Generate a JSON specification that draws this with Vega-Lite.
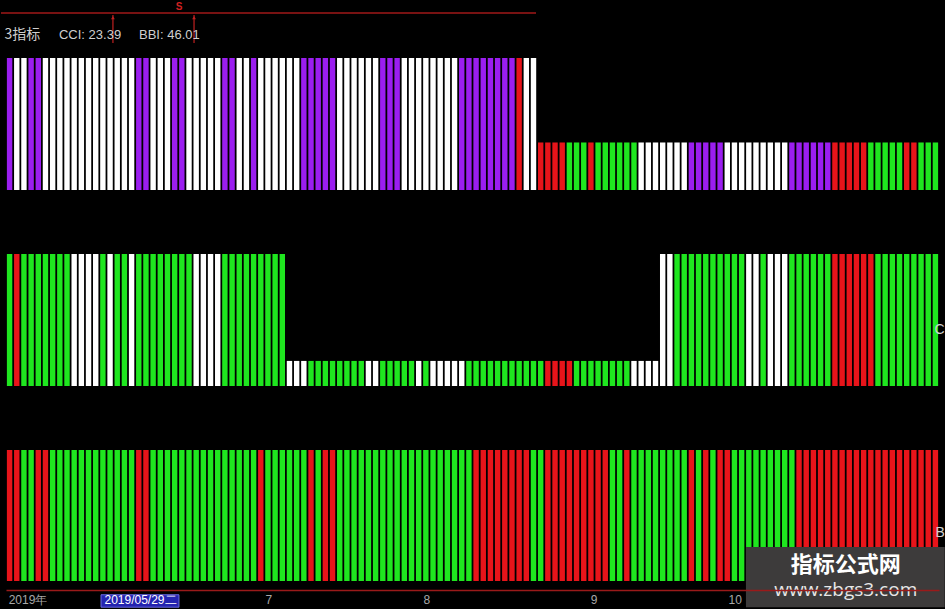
{
"$schema":"https://vega.github.io/schema/vega-lite/v6.json",
"autosize":{"type":"pad"},
"padding":{"left":0,"top":0,"right":1,"bottom":1},
"background":"#000000",
"config":{"view":{"stroke":null},"concat":{"spacing":64}},
"datasets":{
"top":[
{"i":0,"c":"P","v":100},{"i":1,"c":"W","v":100},{"i":2,"c":"W","v":100},{"i":3,"c":"P","v":100},{"i":4,"c":"P","v":100},
{"i":5,"c":"W","v":100},{"i":6,"c":"W","v":100},{"i":7,"c":"W","v":100},{"i":8,"c":"W","v":100},{"i":9,"c":"W","v":100},
{"i":10,"c":"W","v":100},{"i":11,"c":"W","v":100},{"i":12,"c":"W","v":100},{"i":13,"c":"W","v":100},{"i":14,"c":"W","v":100},
{"i":15,"c":"W","v":100},{"i":16,"c":"W","v":100},{"i":17,"c":"W","v":100},{"i":18,"c":"P","v":100},{"i":19,"c":"P","v":100},
{"i":20,"c":"W","v":100},{"i":21,"c":"W","v":100},{"i":22,"c":"W","v":100},{"i":23,"c":"P","v":100},{"i":24,"c":"P","v":100},
{"i":25,"c":"W","v":100},{"i":26,"c":"W","v":100},{"i":27,"c":"W","v":100},{"i":28,"c":"W","v":100},{"i":29,"c":"W","v":100},
{"i":30,"c":"P","v":100},{"i":31,"c":"P","v":100},{"i":32,"c":"W","v":100},{"i":33,"c":"W","v":100},{"i":34,"c":"P","v":100},
{"i":35,"c":"W","v":100},{"i":36,"c":"W","v":100},{"i":37,"c":"W","v":100},{"i":38,"c":"W","v":100},{"i":39,"c":"W","v":100},
{"i":40,"c":"W","v":100},{"i":41,"c":"P","v":100},{"i":42,"c":"P","v":100},{"i":43,"c":"P","v":100},{"i":44,"c":"P","v":100},
{"i":45,"c":"P","v":100},{"i":46,"c":"W","v":100},{"i":47,"c":"W","v":100},{"i":48,"c":"W","v":100},{"i":49,"c":"W","v":100},
{"i":50,"c":"W","v":100},{"i":51,"c":"W","v":100},{"i":52,"c":"P","v":100},{"i":53,"c":"P","v":100},{"i":54,"c":"P","v":100},
{"i":55,"c":"W","v":100},{"i":56,"c":"W","v":100},{"i":57,"c":"W","v":100},{"i":58,"c":"W","v":100},{"i":59,"c":"W","v":100},
{"i":60,"c":"W","v":100},{"i":61,"c":"W","v":100},{"i":62,"c":"W","v":100},{"i":63,"c":"P","v":100},{"i":64,"c":"P","v":100},
{"i":65,"c":"P","v":100},{"i":66,"c":"P","v":100},{"i":67,"c":"P","v":100},{"i":68,"c":"P","v":100},{"i":69,"c":"P","v":100},
{"i":70,"c":"P","v":100},{"i":71,"c":"R","v":100},{"i":72,"c":"W","v":100},{"i":73,"c":"W","v":100},
{"i":74,"c":"R","v":36},{"i":75,"c":"R","v":36},{"i":76,"c":"R","v":36},{"i":77,"c":"R","v":36},
{"i":78,"c":"G","v":36},{"i":79,"c":"G","v":36},{"i":80,"c":"G","v":36},{"i":81,"c":"R","v":36},
{"i":82,"c":"G","v":36},{"i":83,"c":"G","v":36},{"i":84,"c":"G","v":36},{"i":85,"c":"G","v":36},{"i":86,"c":"G","v":36},{"i":87,"c":"G","v":36},
{"i":88,"c":"W","v":36},{"i":89,"c":"W","v":36},{"i":90,"c":"W","v":36},{"i":91,"c":"W","v":36},{"i":92,"c":"W","v":36},{"i":93,"c":"W","v":36},{"i":94,"c":"W","v":36},
{"i":95,"c":"P","v":36},{"i":96,"c":"P","v":36},{"i":97,"c":"P","v":36},{"i":98,"c":"P","v":36},{"i":99,"c":"P","v":36},
{"i":100,"c":"W","v":36},{"i":101,"c":"W","v":36},{"i":102,"c":"W","v":36},{"i":103,"c":"W","v":36},{"i":104,"c":"W","v":36},
{"i":105,"c":"W","v":36},{"i":106,"c":"W","v":36},{"i":107,"c":"W","v":36},{"i":108,"c":"W","v":36},
{"i":109,"c":"P","v":36},{"i":110,"c":"P","v":36},{"i":111,"c":"P","v":36},{"i":112,"c":"P","v":36},{"i":113,"c":"P","v":36},{"i":114,"c":"P","v":36},
{"i":115,"c":"R","v":36},{"i":116,"c":"R","v":36},{"i":117,"c":"R","v":36},{"i":118,"c":"R","v":36},{"i":119,"c":"R","v":36},
{"i":120,"c":"G","v":36},{"i":121,"c":"G","v":36},{"i":122,"c":"G","v":36},{"i":123,"c":"G","v":36},{"i":124,"c":"G","v":36},
{"i":125,"c":"R","v":36},{"i":126,"c":"R","v":36},{"i":127,"c":"G","v":36},{"i":128,"c":"G","v":36},{"i":129,"c":"G","v":36}
],
"mid":[
{"i":0,"c":"G","v":100},{"i":1,"c":"R","v":100},{"i":2,"c":"G","v":100},{"i":3,"c":"G","v":100},{"i":4,"c":"G","v":100},
{"i":5,"c":"G","v":100},{"i":6,"c":"G","v":100},{"i":7,"c":"G","v":100},{"i":8,"c":"G","v":100},{"i":9,"c":"W","v":100},
{"i":10,"c":"W","v":100},{"i":11,"c":"W","v":100},{"i":12,"c":"W","v":100},{"i":13,"c":"G","v":100},{"i":14,"c":"W","v":100},
{"i":15,"c":"G","v":100},{"i":16,"c":"G","v":100},{"i":17,"c":"W","v":100},{"i":18,"c":"G","v":100},{"i":19,"c":"G","v":100},
{"i":20,"c":"G","v":100},{"i":21,"c":"G","v":100},{"i":22,"c":"G","v":100},{"i":23,"c":"G","v":100},{"i":24,"c":"G","v":100},
{"i":25,"c":"G","v":100},{"i":26,"c":"W","v":100},{"i":27,"c":"W","v":100},{"i":28,"c":"W","v":100},{"i":29,"c":"W","v":100},
{"i":30,"c":"G","v":100},{"i":31,"c":"G","v":100},{"i":32,"c":"G","v":100},{"i":33,"c":"G","v":100},{"i":34,"c":"G","v":100},
{"i":35,"c":"G","v":100},{"i":36,"c":"G","v":100},{"i":37,"c":"G","v":100},{"i":38,"c":"G","v":100},
{"i":39,"c":"W","v":19},{"i":40,"c":"W","v":19},{"i":41,"c":"W","v":19},
{"i":42,"c":"G","v":19},{"i":43,"c":"G","v":19},{"i":44,"c":"G","v":19},{"i":45,"c":"G","v":19},{"i":46,"c":"G","v":19},{"i":47,"c":"G","v":19},{"i":48,"c":"G","v":19},{"i":49,"c":"G","v":19},
{"i":50,"c":"W","v":19},{"i":51,"c":"W","v":19},
{"i":52,"c":"G","v":19},{"i":53,"c":"G","v":19},{"i":54,"c":"G","v":19},{"i":55,"c":"G","v":19},{"i":56,"c":"G","v":19},
{"i":57,"c":"W","v":19},{"i":58,"c":"G","v":19},
{"i":59,"c":"W","v":19},{"i":60,"c":"W","v":19},{"i":61,"c":"W","v":19},{"i":62,"c":"W","v":19},{"i":63,"c":"W","v":19},
{"i":64,"c":"G","v":19},{"i":65,"c":"G","v":19},{"i":66,"c":"G","v":19},{"i":67,"c":"G","v":19},{"i":68,"c":"G","v":19},{"i":69,"c":"G","v":19},
{"i":70,"c":"G","v":19},{"i":71,"c":"G","v":19},{"i":72,"c":"G","v":19},{"i":73,"c":"G","v":19},{"i":74,"c":"G","v":19},
{"i":75,"c":"R","v":19},{"i":76,"c":"R","v":19},{"i":77,"c":"R","v":19},{"i":78,"c":"R","v":19},
{"i":79,"c":"G","v":19},{"i":80,"c":"G","v":19},{"i":81,"c":"G","v":19},{"i":82,"c":"G","v":19},{"i":83,"c":"G","v":19},{"i":84,"c":"G","v":19},{"i":85,"c":"G","v":19},{"i":86,"c":"G","v":19},
{"i":87,"c":"W","v":19},{"i":88,"c":"W","v":19},{"i":89,"c":"W","v":19},{"i":90,"c":"W","v":19},
{"i":91,"c":"W","v":100},{"i":92,"c":"W","v":100},
{"i":93,"c":"G","v":100},{"i":94,"c":"G","v":100},{"i":95,"c":"G","v":100},{"i":96,"c":"G","v":100},{"i":97,"c":"G","v":100},
{"i":98,"c":"G","v":100},{"i":99,"c":"G","v":100},{"i":100,"c":"G","v":100},{"i":101,"c":"G","v":100},{"i":102,"c":"G","v":100},
{"i":103,"c":"W","v":100},{"i":104,"c":"W","v":100},{"i":105,"c":"G","v":100},{"i":106,"c":"W","v":100},{"i":107,"c":"W","v":100},{"i":108,"c":"W","v":100},
{"i":109,"c":"G","v":100},{"i":110,"c":"G","v":100},{"i":111,"c":"G","v":100},{"i":112,"c":"G","v":100},{"i":113,"c":"G","v":100},{"i":114,"c":"G","v":100},
{"i":115,"c":"R","v":100},{"i":116,"c":"R","v":100},{"i":117,"c":"R","v":100},{"i":118,"c":"R","v":100},{"i":119,"c":"R","v":100},{"i":120,"c":"R","v":100},
{"i":121,"c":"G","v":100},{"i":122,"c":"G","v":100},{"i":123,"c":"G","v":100},{"i":124,"c":"G","v":100},{"i":125,"c":"G","v":100},
{"i":126,"c":"G","v":100},{"i":127,"c":"G","v":100},{"i":128,"c":"G","v":100},{"i":129,"c":"G","v":100}
],
"bot":[
{"i":0,"c":"R","v":100},{"i":1,"c":"R","v":100},{"i":2,"c":"G","v":100},{"i":3,"c":"G","v":100},{"i":4,"c":"R","v":100},{"i":5,"c":"R","v":100},
{"i":6,"c":"G","v":100},{"i":7,"c":"G","v":100},{"i":8,"c":"G","v":100},{"i":9,"c":"G","v":100},{"i":10,"c":"G","v":100},{"i":11,"c":"G","v":100},
{"i":12,"c":"G","v":100},{"i":13,"c":"G","v":100},{"i":14,"c":"G","v":100},{"i":15,"c":"G","v":100},{"i":16,"c":"G","v":100},{"i":17,"c":"G","v":100},
{"i":18,"c":"R","v":100},{"i":19,"c":"R","v":100},
{"i":20,"c":"G","v":100},{"i":21,"c":"G","v":100},{"i":22,"c":"G","v":100},{"i":23,"c":"G","v":100},{"i":24,"c":"G","v":100},
{"i":25,"c":"G","v":100},{"i":26,"c":"G","v":100},{"i":27,"c":"G","v":100},{"i":28,"c":"G","v":100},{"i":29,"c":"G","v":100},
{"i":30,"c":"G","v":100},{"i":31,"c":"G","v":100},{"i":32,"c":"G","v":100},{"i":33,"c":"G","v":100},{"i":34,"c":"G","v":100},
{"i":35,"c":"R","v":100},
{"i":36,"c":"G","v":100},{"i":37,"c":"G","v":100},{"i":38,"c":"G","v":100},{"i":39,"c":"G","v":100},{"i":40,"c":"G","v":100},{"i":41,"c":"G","v":100},
{"i":42,"c":"R","v":100},{"i":43,"c":"G","v":100},{"i":44,"c":"R","v":100},{"i":45,"c":"R","v":100},
{"i":46,"c":"G","v":100},{"i":47,"c":"G","v":100},{"i":48,"c":"G","v":100},{"i":49,"c":"G","v":100},{"i":50,"c":"G","v":100},
{"i":51,"c":"G","v":100},{"i":52,"c":"G","v":100},{"i":53,"c":"G","v":100},{"i":54,"c":"G","v":100},{"i":55,"c":"G","v":100},
{"i":56,"c":"G","v":100},{"i":57,"c":"G","v":100},{"i":58,"c":"G","v":100},{"i":59,"c":"G","v":100},{"i":60,"c":"G","v":100},
{"i":61,"c":"G","v":100},{"i":62,"c":"G","v":100},{"i":63,"c":"G","v":100},{"i":64,"c":"G","v":100},
{"i":65,"c":"R","v":100},{"i":66,"c":"R","v":100},{"i":67,"c":"R","v":100},{"i":68,"c":"R","v":100},{"i":69,"c":"R","v":100},
{"i":70,"c":"R","v":100},{"i":71,"c":"R","v":100},{"i":72,"c":"R","v":100},
{"i":73,"c":"G","v":100},{"i":74,"c":"G","v":100},
{"i":75,"c":"R","v":100},{"i":76,"c":"R","v":100},{"i":77,"c":"R","v":100},{"i":78,"c":"R","v":100},{"i":79,"c":"R","v":100},
{"i":80,"c":"R","v":100},{"i":81,"c":"R","v":100},{"i":82,"c":"R","v":100},{"i":83,"c":"R","v":100},
{"i":84,"c":"G","v":100},{"i":85,"c":"G","v":100},{"i":86,"c":"R","v":100},
{"i":87,"c":"G","v":100},{"i":88,"c":"G","v":100},{"i":89,"c":"G","v":100},{"i":90,"c":"G","v":100},{"i":91,"c":"G","v":100},
{"i":92,"c":"G","v":100},{"i":93,"c":"G","v":100},{"i":94,"c":"G","v":100},
{"i":95,"c":"R","v":100},{"i":96,"c":"G","v":100},{"i":97,"c":"R","v":100},{"i":98,"c":"G","v":100},{"i":99,"c":"R","v":100},{"i":100,"c":"R","v":100},
{"i":101,"c":"G","v":100},{"i":102,"c":"G","v":100},{"i":103,"c":"G","v":100},{"i":104,"c":"G","v":100},{"i":105,"c":"G","v":100},
{"i":106,"c":"G","v":100},{"i":107,"c":"G","v":100},{"i":108,"c":"G","v":100},{"i":109,"c":"G","v":100},
{"i":110,"c":"R","v":100},{"i":111,"c":"R","v":100},{"i":112,"c":"R","v":100},{"i":113,"c":"R","v":100},{"i":114,"c":"R","v":100},
{"i":115,"c":"R","v":100},{"i":116,"c":"R","v":100},{"i":117,"c":"R","v":100},{"i":118,"c":"R","v":100},{"i":119,"c":"R","v":100},
{"i":120,"c":"R","v":100},{"i":121,"c":"R","v":100},{"i":122,"c":"R","v":100},{"i":123,"c":"R","v":100},{"i":124,"c":"R","v":100},
{"i":125,"c":"R","v":100},{"i":126,"c":"R","v":100},{"i":127,"c":"R","v":100},{"i":128,"c":"R","v":100},{"i":129,"c":"R","v":100}
]
},
"vconcat":[
{
"width":933,"height":132,
"layer":[
{"data":{"name":"top"},"mark":{"type":"bar","width":5.4},
 "encoding":{
  "x":{"field":"i","type":"quantitative","scale":{"domain":[-0.5,129.5],"nice":false,"zero":false,"padding":0},"axis":null},
  "y":{"field":"v","type":"quantitative","scale":{"domain":[0,100],"nice":false},"axis":null},
  "color":{"field":"c","type":"nominal","scale":{"domain":["W","P","G","R"],"range":["#ffffff","#9b1ef0","#1fe61f","#e8141a"]},"legend":null}}},
{"data":{"values":[{}]},"mark":{"type":"rule","color":"#000000","opacity":0,"strokeWidth":0.5},
 "encoding":{"x":{"datum":-1.2},"x2":{"datum":3},"y":{"datum":143.9}}},
{"data":{"values":[{}]},"mark":{"type":"rule","color":"#a01818","strokeWidth":1.5},
 "encoding":{"x":{"datum":-1.2},"x2":{"datum":73.35},"y":{"datum":134}}},
{"data":{"values":[{}]},"mark":{"type":"rule","color":"#c02020","strokeWidth":1.2},
 "encoding":{"x":{"datum":14.4},"y":{"datum":111.4},"y2":{"datum":132.6}}},
{"data":{"values":[{}]},"mark":{"type":"rule","color":"#c02020","strokeWidth":1.2},
 "encoding":{"x":{"datum":25.7},"y":{"datum":111.4},"y2":{"datum":132.6}}},
{"data":{"values":[{}]},"mark":{"type":"point","shape":"triangle-up","filled":true,"color":"#c02020","size":14,"opacity":1},
 "encoding":{"x":{"datum":14.4},"y":{"datum":130.5}}},
{"data":{"values":[{}]},"mark":{"type":"point","shape":"triangle-up","filled":true,"color":"#c02020","size":14,"opacity":1},
 "encoding":{"x":{"datum":25.7},"y":{"datum":130.5}}},
{"data":{"values":[{}]},"mark":{"type":"text","color":"#d02020","fontSize":10,"fontWeight":"bold","font":"Liberation Sans"},
 "encoding":{"x":{"datum":23.6},"y":{"datum":139},"text":{"value":"S"}}},
{"data":{"values":[{}]},"mark":{"type":"text","color":"#cfcfcf","fontSize":14,"align":"left","font":"Noto Sans CJK SC"},
 "encoding":{"x":{"datum":-0.7},"y":{"datum":117.4},"text":{"value":"3指标"}}},
{"data":{"values":[{}]},"mark":{"type":"text","color":"#cfcfcf","fontSize":13,"align":"left","font":"Liberation Sans"},
 "encoding":{"x":{"datum":6.88},"y":{"datum":117.4},"text":{"value":"CCI: 23.39"}}},
{"data":{"values":[{}]},"mark":{"type":"text","color":"#cfcfcf","fontSize":13,"align":"left","font":"Liberation Sans"},
 "encoding":{"x":{"datum":18.03},"y":{"datum":117.4},"text":{"value":"BBI: 46.01"}}}
]
},
{
"width":933,"height":132,
"layer":[
{"data":{"name":"mid"},"mark":{"type":"bar","width":5.4},
 "encoding":{
  "x":{"field":"i","type":"quantitative","scale":{"domain":[-0.5,129.5],"nice":false,"zero":false,"padding":0},"axis":null},
  "y":{"field":"v","type":"quantitative","scale":{"domain":[0,100],"nice":false},"axis":null},
  "color":{"field":"c","type":"nominal","scale":{"domain":["W","P","G","R"],"range":["#ffffff","#9b1ef0","#1fe61f","#e8141a"]},"legend":null}}},
{"data":{"values":[{}]},"mark":{"type":"text","color":"#d0d0d0","fontSize":14,"align":"right","font":"Liberation Sans"},
 "encoding":{"x":{"datum":130.3},"y":{"datum":42.4},"text":{"value":"C"}}}
]
},
{
"width":933,"height":131,
"layer":[
{"data":{"name":"bot"},"mark":{"type":"bar","width":5.4},
 "encoding":{
  "x":{"field":"i","type":"quantitative","scale":{"domain":[-0.5,129.5],"nice":false,"zero":false,"padding":0},
   "axis":{"values":[-0.2,13.15,35.6,57.6,80.9,100.1],
    "labelExpr":"datum.value < 5 ? '2019年' : datum.value < 20 ? '2019/05/29二' : datum.value < 40 ? '7' : datum.value < 70 ? '8' : datum.value < 90 ? '9' : '10'",
    "labelAlign":"left","labelFlush":false,"labelOverlap":false,"labelBound":false,
    "labelColor":{"condition":{"test":"datum.value > 10 && datum.value < 20","value":"#ffffff"},"value":"#a8a8a8"},
    "labelFont":"Liberation Sans","labelFontSize":12,"labelPadding":4,
    "offset":9,"domainColor":"#9a1a1a","domainWidth":1.5,"ticks":false,"grid":false,"title":null,"zindex":1}},
  "y":{"field":"v","type":"quantitative","scale":{"domain":[0,100],"nice":false},"axis":null},
  "color":{"field":"c","type":"nominal","scale":{"domain":["W","P","G","R"],"range":["#ffffff","#9b1ef0","#1fe61f","#e8141a"]},"legend":null}}},
{"data":{"values":[{}]},"mark":{"type":"rect","color":"#2424b0","stroke":"#6a6ae0","strokeWidth":1},
 "encoding":{"x":{"datum":12.74},"x2":{"datum":23.6},"y":{"datum":-10.5},"y2":{"datum":-20}}},
{"data":{"values":[{}]},"mark":{"type":"text","color":"#d0d0d0","fontSize":14,"align":"right","font":"Liberation Sans"},
 "encoding":{"x":{"datum":130.3},"y":{"datum":36.6},"text":{"value":"B"}}},
{"data":{"values":[{}]},"mark":{"type":"rect","color":"#3d3b3b"},
 "encoding":{"x":{"datum":102.6},"x2":{"datum":130.3},"y":{"datum":26},"y2":{"datum":-20}}},
{"data":{"values":[{}]},"mark":{"type":"text","color":"#ffffff","fontSize":22,"fontWeight":"bold","font":"Noto Sans CJK SC"},
 "encoding":{"x":{"datum":116.5},"y":{"datum":12.2},"text":{"value":"指标公式网"}}},
{"data":{"values":[{}]},"mark":{"type":"text","color":"#e8e8e8","fontSize":19,"font":"Open Sans"},
 "encoding":{"x":{"datum":116.5},"y":{"datum":-6.9},"text":{"value":"www.zbgs3.com"}}}
]
}
]
}
